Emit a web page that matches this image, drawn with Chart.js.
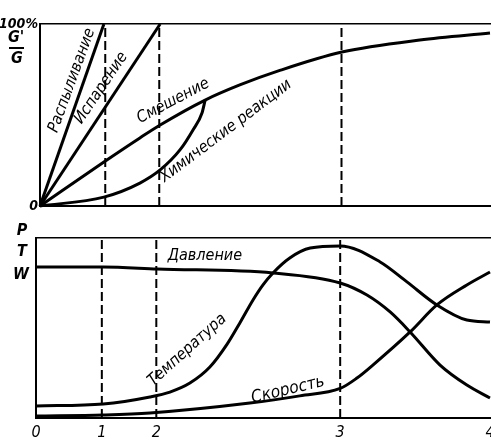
<!DOCTYPE html>
<html>
<head>
<meta charset="utf-8">
<script src="https://cdn.jsdelivr.net/npm/chart.js@4.4.1/dist/chart.umd.min.js"></script>
<style>
html, body { margin: 0; padding: 0; background: #fff; }
#topBox { position: absolute; left: 0; top: 0; width: 491px; height: 218px; }
#bottomBox { position: absolute; left: 0; top: 218px; width: 491px; height: 224px; }
</style>
</head>
<body>
<div id="topBox"><canvas id="topChart"></canvas></div>
<div id="bottomBox"><canvas id="bottomChart"></canvas></div>
<script>
// stage marks on the time axis (0..4), placed as in the figure
const markerPos = [0, 14.5, 26.5, 67, 100];
const markerLabels = ['0', '1', '2', '3', '4'];

// upper panel: share processed G'/G, %
const topTickLabels = ['0', '100%'];
const sprayX = [0, 14.2];
const sprayY = [0, 100];
const evapX = [0, 26.7];
const evapY = [0, 100];
const mixX = [0, 14.2, 22.2, 26.7, 36.7, 44.4, 53.3, 67.1, 84.4, 100];
const mixY = [0, 24.2, 37.4, 44.5, 58.2, 66.5, 74.5, 84.6, 91.2, 95];
const chemX = [0, 14.2, 22.2, 26.7, 31.1, 34, 36, 36.7];
const chemY = [0, 4.9, 12.6, 19.8, 30.8, 41.8, 51.1, 58.2];
const topNames = ['Распыливание', 'Испарение', 'Смешение', 'Химические реакции'];

// lower panel: P, T, W
const pressX = [0, 14.8, 26.7, 52.2, 67, 72.9, 78, 82.4, 89, 94.9, 100];
const pressY = [83.9, 83.9, 82.8, 80.6, 75, 68.3, 58.9, 47.8, 29.4, 18.3, 11.1];
const tempX = [0, 14.8, 25.1, 29.5, 33.9, 38.3, 42.1, 44.9, 47.8, 50, 52.2, 55.9, 60.4, 67, 75.8, 81.7, 88.3, 94.9, 100];
const tempY = [6.7, 7.8, 11.7, 14.4, 19.4, 28.3, 41, 52.8, 65.6, 74, 80.6, 88.9, 94.4, 95.6, 86.7, 75.6, 62.8, 54.4, 53.3];
const speedX = [0, 14.8, 25.1, 47.1, 58.1, 67, 70.7, 74.2, 82.4, 88.3, 94.9, 100];
const speedY = [1.1, 1.7, 2.8, 8.3, 12.3, 16.4, 22.2, 29.4, 47.8, 62.8, 73.9, 81.1];
const bottomNames = ['Давление', 'Температура', 'Скорость'];
const bottomAxisNames = ['P', 'T', 'W'];
const fracNames = ["G'", 'G'];

const FAMILY = '"DejaVu Sans Condensed", "Liberation Sans Narrow", "DejaVu Sans", sans-serif';
const curveFont = 'italic 16px ' + FAMILY;
const axisFont = 'italic bold 16px ' + FAMILY;

const pts = (xs, ys) => xs.map((x, i) => ({ x: x, y: ys[i] }));

function curve(xs, ys, smooth) {
    return {
        data: pts(xs, ys),
        borderColor: '#000',
        borderWidth: 3,
        pointRadius: 0,
        fill: false,
        tension: smooth ? 0.4 : 0,
        cubicInterpolationMode: smooth ? 'monotone' : 'default',
        clip: 4
    };
}

function marker(i) {
    return {
        data: [{ x: markerPos[i], y: 0 }, { x: markerPos[i], y: 100 }],
        borderColor: '#000',
        borderWidth: 2,
        borderDash: [9, 4],
        pointRadius: 0,
        fill: false,
        tension: 0
    };
}

// writes curve names and side labels
const textPlugin = {
    id: 'texts',
    afterDatasetsDraw(chart, args, opts) {
        const ctx = chart.ctx;
        const sx = chart.scales.x, sy = chart.scales.y;
        (opts.items || []).forEach(function (it) {
            ctx.save();
            const px = it.px != null ? it.px : sx.getPixelForValue(it.x);
            const py = it.py != null ? it.py : sy.getPixelForValue(it.y);
            ctx.translate(px, py);
            ctx.rotate((it.angle || 0) * Math.PI / 180);
            ctx.font = it.font || curveFont;
            ctx.fillStyle = '#000';
            ctx.textAlign = 'center';
            ctx.textBaseline = 'middle';
            ctx.fillText(it.text, 0, 0);
            ctx.restore();
        });
        (opts.bars || []).forEach(function (b) {
            ctx.save();
            ctx.strokeStyle = '#000';
            ctx.lineWidth = 2;
            ctx.beginPath();
            ctx.moveTo(b[0], b[1]);
            ctx.lineTo(b[2], b[1]);
            ctx.stroke();
            ctx.restore();
        });
    }
};

function frameAxis(pos, size, width) {
    return {
        type: 'linear',
        position: pos,
        min: 0,
        max: 100,
        display: true,
        grid: { display: false, drawTicks: false },
        border: { display: true, color: '#000', width: width },
        ticks: { display: false },
        afterFit: function (s) {
            if (pos === 'left' || pos === 'right') s.width = size; else s.height = size;
        }
    };
}

Chart.defaults.color = '#000';
Chart.defaults.animation = false;

new Chart(document.getElementById('topChart'), {
    type: 'line',
    data: {
        datasets: [
            marker(1), marker(2), marker(3),
            curve(sprayX, sprayY, false),
            curve(evapX, evapY, false),
            curve(mixX, mixY, true),
            curve(chemX, chemY, true)
        ]
    },
    options: {
        responsive: true,
        maintainAspectRatio: false,
        layout: { padding: { left: 0, right: 1, top: 0, bottom: 0 } },
        plugins: {
            legend: { display: false },
            tooltip: { enabled: false },
            texts: {
                items: [
                    { text: topNames[0], x: 7.1, y: 69, angle: -70 },
                    { text: topNames[1], x: 13.6, y: 64.8, angle: -56 },
                    { text: topNames[2], x: 29.6, y: 57.7, angle: -28 },
                    { text: topNames[3], x: 41.3, y: 41.2, angle: -37 },
                    { text: fracNames[0], px: 16, py: 38, font: axisFont },
                    { text: fracNames[1], px: 17, py: 59, font: axisFont }
                ],
                bars: [[9, 48, 24]]
            }
        },
        scales: {
            x: frameAxis('bottom', 12, 2),
            xTop: frameAxis('top', 24, 1.5),
            y: {
                type: 'linear',
                position: 'left',
                min: 0,
                max: 100,
                grid: { display: false, drawTicks: false },
                border: { display: true, color: '#000', width: 2 },
                afterBuildTicks: function (s) { s.ticks = [{ value: 0 }, { value: 100 }]; },
                afterFit: function (s) { s.width = 40; },
                ticks: {
                    padding: 2,
                    font: { family: FAMILY, size: 14, style: 'italic', weight: 'bold' },
                    callback: function (v, i) { return topTickLabels[i]; }
                }
            }
        }
    },
    plugins: [textPlugin]
});

new Chart(document.getElementById('bottomChart'), {
    type: 'line',
    data: {
        datasets: [
            marker(1), marker(2), marker(3),
            curve(pressX, pressY, true),
            curve(tempX, tempY, true),
            curve(speedX, speedY, true)
        ]
    },
    options: {
        responsive: true,
        maintainAspectRatio: false,
        layout: { padding: { left: 0, right: 1, top: 0, bottom: 0 } },
        plugins: {
            legend: { display: false },
            tooltip: { enabled: false },
            texts: {
                items: [
                    { text: bottomNames[0], x: 37.2, y: 90, angle: 0 },
                    { text: bottomNames[1], x: 33.3, y: 37.8, angle: -42 },
                    { text: bottomNames[2], x: 55.5, y: 15.6, angle: -13, font: 'italic 17px ' + FAMILY },
                    { text: bottomAxisNames[0], px: 22, py: 13, font: axisFont },
                    { text: bottomAxisNames[1], px: 22, py: 34, font: axisFont },
                    { text: bottomAxisNames[2], px: 21, py: 57, font: axisFont }
                ]
            }
        },
        scales: {
            x: {
                type: 'linear',
                position: 'bottom',
                min: 0,
                max: 100,
                grid: { display: false, drawTicks: false },
                border: { display: true, color: '#000', width: 2 },
                afterBuildTicks: function (s) { s.ticks = markerPos.map(v => ({ value: v })); },
                afterFit: function (s) {
                    s.height = 24;
                    s.paddingLeft = 0;
                    s.paddingRight = 0;
                },
                ticks: {
                    padding: 5,
                    maxRotation: 0,
                    autoSkip: false,
                    font: { family: FAMILY, size: 16, style: 'italic' },
                    callback: function (v, i) { return markerLabels[i]; }
                }
            },
            xTop: frameAxis('top', 20, 1.5),
            y: frameAxis('left', 36, 2)
        }
    },
    plugins: [textPlugin]
});
</script>
</body>
</html>
